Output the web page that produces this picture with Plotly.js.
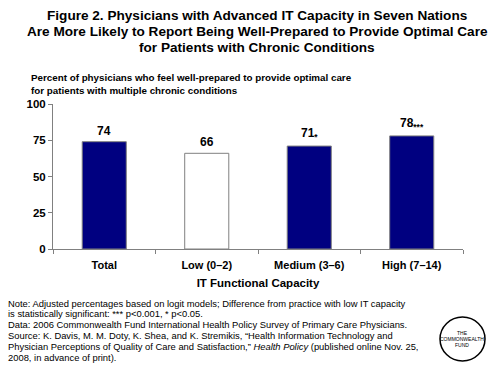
<!DOCTYPE html>
<html>
<head>
<meta charset="utf-8">
<script src="https://cdn.plot.ly/plotly-3.0.1.min.js"></script>
<style>
html,body{margin:0;padding:0;background:#fff;}
#chart{width:490px;height:368px;}
</style>
</head>
<body>
<div id="chart"></div>
<script>
const categories = ["Total", "Low (0–2)", "Medium (3–6)", "High (7–14)"];
const values = [74, 66, 71, 78];
const valueLabels = ["74", "66", "71<sub>*</sub>", "78<sub>***</sub>"];
const barColors = ["#000080", "#ffffff", "#000080", "#000080"];
const yTicks = [0, 25, 50, 75, 100];

const FONT = "Arial, 'Liberation Sans', sans-serif";

const trace = {
  type: "bar",
  x: categories,
  y: values,
  width: 0.43,
  marker: {color: barColors, line: {color: "#808080", width: 1}},
  hoverinfo: "none"
};

// pixel helpers (plot area: top 104, bottom 249, height 145)
const T = 104, B = 249;
const py = p => (B - p) / (B - T);
const px = p => (p - 53) / (463 - 53);

const annotations = [];
categories.forEach((c, i) => {
  annotations.push({
    x: c, y: values[i], xref: "x", yref: "y",
    text: "<b>" + valueLabels[i] + "</b>",
    showarrow: false, yanchor: "bottom", yshift: 2,
    font: {family: FONT, size: 12, color: "#000"}
  });
});

const titleLines = [
  "Figure 2. Physicians with Advanced IT Capacity in Seven Nations",
  "Are More Likely to Report Being Well-Prepared to Provide Optimal Care",
  "for Patients with Chronic Conditions"
];
titleLines.forEach((t, i) => {
  annotations.push({
    xref: "paper", yref: "paper", x: px(257), y: py(15 + 16 * i),
    text: "<b>" + t + "</b>", showarrow: false,
    xanchor: "center", yanchor: "middle",
    font: {family: FONT, size: 13.6, color: "#000"}
  });
});

const subLines = [
  "Percent of physicians who feel well-prepared to provide optimal care",
  "for patients with multiple chronic conditions"
];
subLines.forEach((t, i) => {
  annotations.push({
    xref: "paper", yref: "paper", x: px(29), y: py(77 + 13 * i),
    text: "<b>" + t + "</b>", showarrow: false,
    xanchor: "left", yanchor: "middle",
    font: {family: FONT, size: 9.8, color: "#000"}
  });
});

const noteLines = [
  "Note: Adjusted percentages based on logit models; Difference from practice with low IT capacity",
  "is statistically significant: *** p<0.001, * p<0.05.",
  "Data: 2006 Commonwealth Fund International Health Policy Survey of Primary Care Physicians.",
  "Source: K. Davis, M. M. Doty, K. Shea, and K. Stremikis, “Health Information Technology and",
  "Physician Perceptions of Quality of Care and Satisfaction,” <i>Health Policy</i> (published online Nov. 25,",
  "2008, in advance of print)."
];
noteLines.forEach((t, i) => {
  annotations.push({
    xref: "paper", yref: "paper", x: px(6), y: py(303 + 10.9 * i),
    text: t, showarrow: false,
    xanchor: "left", yanchor: "middle",
    font: {family: FONT, size: 9.4, color: "#000"}
  });
});

["THE", "COMMONWEALTH", "FUND"].forEach((t, i) => {
  annotations.push({
    xref: "paper", yref: "paper", x: px(462), y: py(333 + 6 * i),
    text: t, showarrow: false, xanchor: "center", yanchor: "middle",
    font: {family: FONT, size: 5, color: "#000"}
  });
});

const layout = {
  width: 490, height: 368,
  margin: {l: 53, r: 27, t: 104, b: 119},
  paper_bgcolor: "#fff", plot_bgcolor: "#fff",
  showlegend: false,
  xaxis: {
    showline: true, linecolor: "#808080", linewidth: 1,
    ticks: "outside", tickcolor: "#808080", ticklen: 4,
    tickson: "boundaries",
    ticklabelstandoff: 6,
    tickfont: {family: FONT, size: 11, color: "#000", weight: "bold"},
    title: {text: "<b>IT Functional Capacity</b>", standoff: 8,
            font: {family: FONT, size: 11.5, color: "#000"}},
    fixedrange: true
  },
  yaxis: {
    range: [0, 100], tickvals: yTicks,
    showline: true, linecolor: "#808080", linewidth: 1,
    ticks: "outside", tickcolor: "#808080", ticklen: 4,
    showgrid: false, zeroline: false,
    tickfont: {family: FONT, size: 11.5, color: "#000", weight: "bold"},
    fixedrange: true
  },
  annotations: annotations,
  shapes: [{
    type: "circle", xref: "paper", yref: "paper",
    x0: px(440), x1: px(485), y0: py(317), y1: py(361),
    line: {color: "#000", width: 1.5}
  }]
};

Plotly.newPlot("chart", [trace], layout, {displayModeBar: false, staticPlot: true});
</script>
</body>
</html>
